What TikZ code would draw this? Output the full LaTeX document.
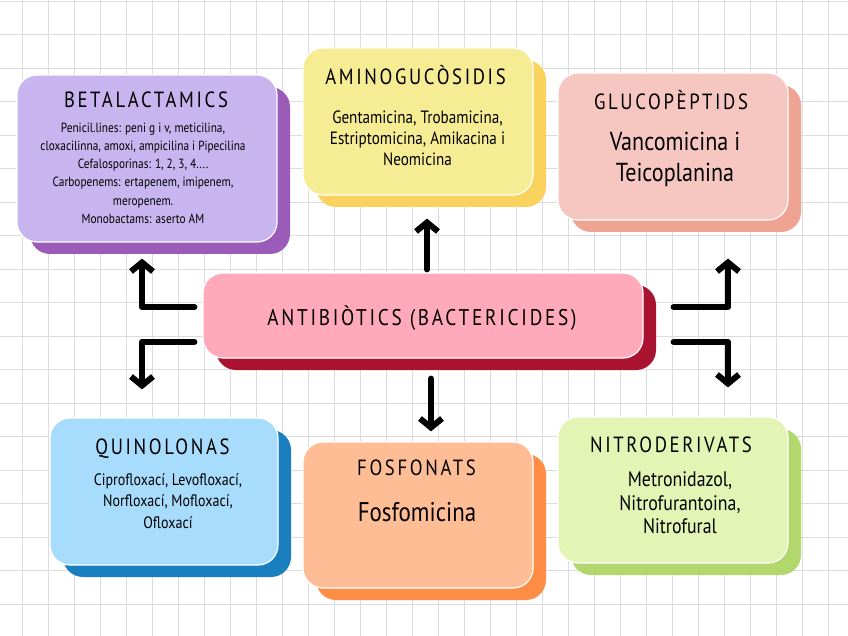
\documentclass[tikz,border=0pt]{standalone}
\usepackage{fontspec}
\setmainfont[FakeStretch=0.85]{PT Sans}
\newfontfamily\headfont[FakeStretch=0.85,LetterSpace=12]{PT Sans}
\usepackage{tikz}
\usetikzlibrary{arrows.meta, positioning, calc, shadows}
\definecolor{beta-fill}{HTML}{C8B4EE}
\definecolor{beta-dark}{HTML}{9A5CB8}
\definecolor{amino-fill}{HTML}{F6EC94}
\definecolor{amino-dark}{HTML}{F9D35E}
\definecolor{gluco-fill}{HTML}{F6C7C0}
\definecolor{gluco-dark}{HTML}{EFA393}
\definecolor{main-fill}{HTML}{FFA9BA}
\definecolor{main-dark}{HTML}{A9132F}
\definecolor{quin-fill}{HTML}{A8DCFD}
\definecolor{quin-dark}{HTML}{1A7FBF}
\definecolor{fosf-fill}{HTML}{FFBD95}
\definecolor{fosf-dark}{HTML}{FF8D46}
\definecolor{nitro-fill}{HTML}{E3F5B5}
\definecolor{nitro-dark}{HTML}{B2D76D}
\definecolor{paper-line}{HTML}{DCDCDC}

\begin{document}
\begin{tikzpicture}[
  x=1pt, y=-1pt,
  card/.style 2 args={rectangle, rounded corners=20pt, draw=white, line width=1.2pt,
              fill=#1, minimum width=230pt, minimum height=147pt, inner sep=0pt,
              drop shadow={shadow xshift=13pt, shadow yshift=-12pt, fill=#2, opacity=1}},
  head/.style={font=\headfont\fontsize{22}{26}\selectfont, anchor=base, inner sep=0pt},
  body/.style={align=center, anchor=north, inner sep=0pt},
  arr/.style={line width=6pt, line cap=round, line join=round,
              -{Straight Barb[length=9pt, width=22pt]}},
  gridline/.style={paper-line, line width=0.8pt}
]
  \useasboundingbox (0,0) rectangle (848,636);
  \fill[white] (0,0) rectangle (848,636);

  % squared paper
  \foreach \gx in {22,48,...,848} \draw[gridline] (\gx,0) -- (\gx,636);
  \foreach \gy in {1,34.5,...,636} \draw[gridline] (0,\gy) -- (848,\gy);

  % boxes
  \node[card={beta-fill}{beta-dark}, minimum width=260pt, minimum height=167pt] (beta) at (147,158.5) {};
  \node[card={amino-fill}{amino-dark}] (amino) at (418,121.5) {};
  \node[card={gluco-fill}{gluco-dark}] (gluco) at (673,146.5) {};
  \node[card={main-fill}{main-dark}, minimum width=440pt, minimum height=85pt] (main) at (423,315.5) {};
  \node[card={quin-fill}{quin-dark}, minimum width=228pt] (quin) at (164,491.5) {};
  \node[card={fosf-fill}{fosf-dark}, minimum height=146pt] (fosf) at (418,515) {};
  \node[card={nitro-fill}{nitro-dark}, minimum height=146pt] (nitro) at (673,490) {};

  % titles
  \node[head] (beta-t) at ([shift={(-1,32.7)}]beta.north) {BETALACTAMICS};
  \node[head] (amino-t) at ([shift={(-2.5,36.7)}]amino.north) {AMINOGUCÒSIDIS};
  \node[head] (gluco-t) at ([shift={(-2,36.7)}]gluco.north) {GLUCOPÈPTIDS};
  \node[head, font=\headfont\fontsize{22.7}{26}\selectfont] (main-t) at ([shift={(-1,9.5)}]main.center) {ANTIBIÒTICS (BACTERICIDES)};
  \node[head] (quin-t) at ([shift={(-1.5,36.7)}]quin.north) {QUINOLONAS};
  \node[head] (fosf-t) at ([shift={(-1.5,33.7)}]fosf.north) {FOSFONATS};
  \node[head] (nitro-t) at ([shift={(-2,35.7)}]nitro.north) {NITRODERIVATS};

  % contents
  \node[body, font=\fontsize{13.3}{18.3}\selectfont] (beta-b) at ([shift={(-4,48)}]beta.north)
       {Penicil.lines: peni g i v, meticilina,\\cloxacilinna, amoxi, ampicilina i Pipecilina\\
        Cefalosporinas: 1, 2, 3, 4....\\Carbopenems: ertapenem, imipenem,\\meropenem.\\
        Monobactams: aserto AM};
  \node[body, font=\fontsize{17.8}{21}\selectfont] (amino-b) at ([shift={(-0.5,63.4)}]amino.north)
       {Gentamicina, Trobamicina,\\Estriptomicina, Amikacina i\\Neomicina};
  \node[body, font=\fontsize{26}{31}\selectfont] (gluco-b) at ([shift={(2,59.4)}]gluco.north)
       {Vancomicina i\\Teicoplanina};
  \node[body, font=\fontsize{16.5}{21.5}\selectfont] (quin-b) at ([shift={(4,55.9)}]quin.north)
       {Ciprofloxací, Levofloxací,\\Norfloxací, Mofloxací,\\Ofloxací};
  \node[body, font=\fontsize{27}{31}\selectfont] (fosf-b) at ([shift={(-1,61)}]fosf.north)
       {Fosfomicina};
  \node[body, font=\fontsize{21}{23.5}\selectfont] (nitro-b) at ([shift={(7,55.2)}]nitro.north)
       {Metronidazol,\\Nitrofurantoina,\\Nitrofural};

  % arrows
  \draw[arr] ([shift={(-8,-8.5)}]main.west) -| ([shift={(-5,16)}]beta.south);
  \draw[arr] ([shift={(-8,26.5)}]main.west) -| ([shift={(-22,-28)}]quin.north);
  \draw[arr] ([shift={(30,-8.5)}]main.east) -| ([shift={(55,38)}]gluco.south);
  \draw[arr] ([shift={(30,26.5)}]main.east) -| ([shift={(55,-29)}]nitro.north);
  \draw[arr] ([shift={(4,-3)}]main.north) -- ([shift={(9,23)}]amino.south);
  \draw[arr] ([shift={(8,20)}]main.south) -- ([shift={(13,-10)}]fosf.north);

\end{tikzpicture}
\end{document}
